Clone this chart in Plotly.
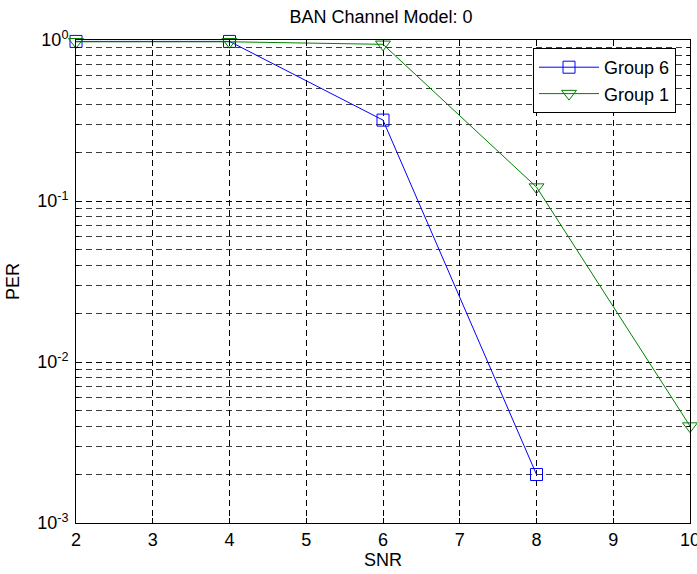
import plotly.graph_objects as go

snr_g6 = [2, 4, 6, 8]
per_g6 = [0.98, 0.98, 0.318, 0.002]
snr_g1 = [2, 4, 6, 8, 10]
per_g1 = [0.975, 0.975, 0.94, 0.122, 0.004]

x_ticks = [2, 3, 4, 5, 6, 7, 8, 9, 10]
y_tickvals = [1e-3, 1e-2, 1e-1, 1]
y_ticktext = ["10<sup>-3</sup>", "10<sup>-2</sup>", "10<sup>-1</sup>", "10<sup>0</sup>"]

FONT = "Liberation Sans, Arial, sans-serif"
FS = 18

fig = go.Figure()
fig.add_trace(go.Scatter(
    x=snr_g6, y=per_g6, mode="lines+markers", name="Group 6",
    legendgroup="a", cliponaxis=False,
    line=dict(color="rgb(0,0,255)", width=1),
    marker=dict(symbol="square-open", size=12, color="rgb(0,0,255)", line=dict(width=1)),
))
fig.add_trace(go.Scatter(
    x=snr_g1, y=per_g1, mode="lines+markers", name="Group 1",
    legendgroup="b", cliponaxis=False,
    line=dict(color="rgb(0,128,0)", width=1),
    marker=dict(symbol="triangle-down-open", size=13, color="rgb(0,128,0)", line=dict(width=1)),
))

fig.update_layout(
    width=697, height=574,
    margin=dict(l=76, r=7, t=40, b=51, autoexpand=False),
    paper_bgcolor="white", plot_bgcolor="white",
    font=dict(family=FONT, size=FS, color="black"),
    title=dict(text="BAN Channel Model: 0", x=381 / 697, xanchor="center",
               y=1 - 17 / 574, yanchor="middle", font=dict(size=FS)),
    legend=dict(x=(533 - 76) / 614, y=(523 - 48) / 483, xanchor="left", yanchor="top",
                bordercolor="black", borderwidth=1, bgcolor="white",
                font=dict(size=FS), tracegroupgap=0, itemwidth=60),
    showlegend=True,
)
fig.update_xaxes(
    range=[2, 10], tickvals=x_ticks, ticks="inside", ticklen=5, tickcolor="black",
    showline=True, linecolor="black", linewidth=1, mirror="ticks",
    showgrid=True, gridcolor="black", griddash="6px,4px", gridwidth=1,
    zeroline=False, ticklabeloverflow="allow", automargin=False,
    tickfont=dict(size=FS),
    title=dict(text="SNR", standoff=2, font=dict(size=FS)),
)
fig.update_yaxes(
    type="log", range=[-3, 0], tickvals=y_tickvals, ticktext=y_ticktext,
    ticks="inside", ticklen=5, tickcolor="black",
    showline=True, linecolor="black", linewidth=1, mirror="ticks",
    showgrid=True, gridcolor="black", griddash="6px,4px", gridwidth=1,
    zeroline=False, ticklabeloverflow="allow", ticklabelstandoff=3, automargin=False,
    tickfont=dict(size=FS),
    minor=dict(ticks="inside", ticklen=3, tickcolor="black", showgrid=True,
               gridcolor="rgb(60,60,60)", griddash="6px,4px", gridwidth=1,
               tickvals=[m * 10 ** k for k in (-3, -2, -1) for m in range(2, 10)]),
    title=dict(text="PER", standoff=12, font=dict(size=FS)),
)

fig.write_html("out.html")
